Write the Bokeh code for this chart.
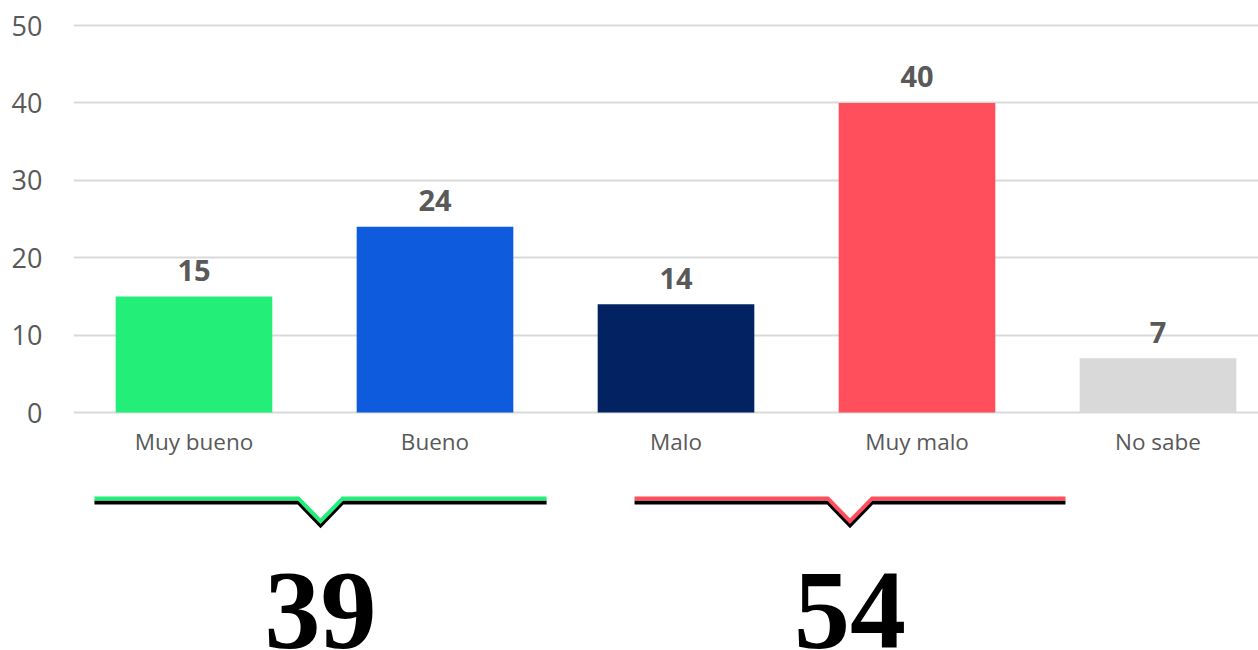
from bokeh.plotting import figure
from bokeh.models import ColumnDataSource, FixedTicker, Range1d
from bokeh.core.properties import value
from bokeh.embed import file_html
from bokeh.resources import INLINE

# ---- data ----
categories = ["Muy bueno", "Bueno", "Malo", "Muy malo", "No sabe"]
values = [15, 24, 14, 40, 7]
colors = ["#23EE77", "#0E5CDD", "#032262", "#FF4F5C", "#D9D9D9"]
y_ticks = [0, 10, 20, 30, 40, 50]
groups = [[0, 1], [2, 3]]          # indexes summed under each brace
group_colors = ["#23EE77", "#FF4F5C"]

# ---- styling constants ----
TXT = "#595959"
FONT = "Open Sans"
brace_center_shift = [0.025, 0.222]
brace_half = [0.938, 0.894]
brace_y = -11.1
v_half = 0.092
v_depth = 2.95
shadow = 0.52

xs_idx = list(range(len(categories)))
x0 = -0.5
x1 = x0 + (1258 - 73) / 241.0
y1 = 50 + 9 / 7.74
y0 = -(650 - 412) / 7.74

p = figure(width=1258, height=650, output_backend="svg", toolbar_location=None,
           x_range=Range1d(x0, x1), y_range=Range1d(y0, y1),
           min_border_left=73, min_border_right=0, min_border_top=16, min_border_bottom=0,
           x_axis_location=None)
p.outline_line_color = None
p.background_fill_color = "white"
p.border_fill_color = "white"

p.xgrid.visible = False
p.ygrid.ticker = FixedTicker(ticks=y_ticks)
p.ygrid.grid_line_color = "#D9D9D9"
p.ygrid.grid_line_width = 2

ax = p.yaxis[0]
ax.ticker = FixedTicker(ticks=y_ticks)
ax.axis_line_color = None
ax.major_tick_line_color = None
ax.minor_tick_line_color = None
ax.major_label_standoff = 25
ax.major_label_text_font = FONT
ax.major_label_text_font_size = "27px"
ax.major_label_text_color = TXT

src = ColumnDataSource(dict(x=xs_idx, top=values, color=colors, cat=categories,
                            lab=[str(v) for v in values],
                            cy=[-3.75] * len(values)))
p.vbar(x="x", top="top", bottom=0, width=0.65, color="color", source=src, line_color=None)

p.text(x="x", y="top", text="lab", source=src, text_align="center",
       text_baseline="alphabetic", y_offset=-26, text_font=value(FONT),
       text_font_style="bold", text_font_size="29px", text_color=TXT)
p.text(x="x", y="cy", text="cat", source=src, text_align="center",
       text_baseline="middle", text_font=value(FONT),
       text_font_size="22.5px", text_color=TXT)

for gi, g in enumerate(groups):
    c = sum(g) / len(g) + brace_center_shift[gi]
    h = brace_half[gi]
    bx = [c - h, c - v_half, c, c + v_half, c + h]
    by = [brace_y, brace_y, brace_y - v_depth, brace_y, brace_y]
    p.line(bx, [y - shadow for y in by], line_color="black",
           line_width=4, line_join="miter")
    p.line(bx, by, line_color=group_colors[gi], line_width=4, line_join="miter")
    total = sum(values[i] for i in g)
    p.text(x=[c], y=[-25.7], text=[str(total)], text_align="center",
           text_baseline="alphabetic", text_font=value("Liberation Serif"),
           text_font_style="bold", text_font_size="112px", text_color="black")

open("out.html", "w").write(file_html(p, INLINE))
